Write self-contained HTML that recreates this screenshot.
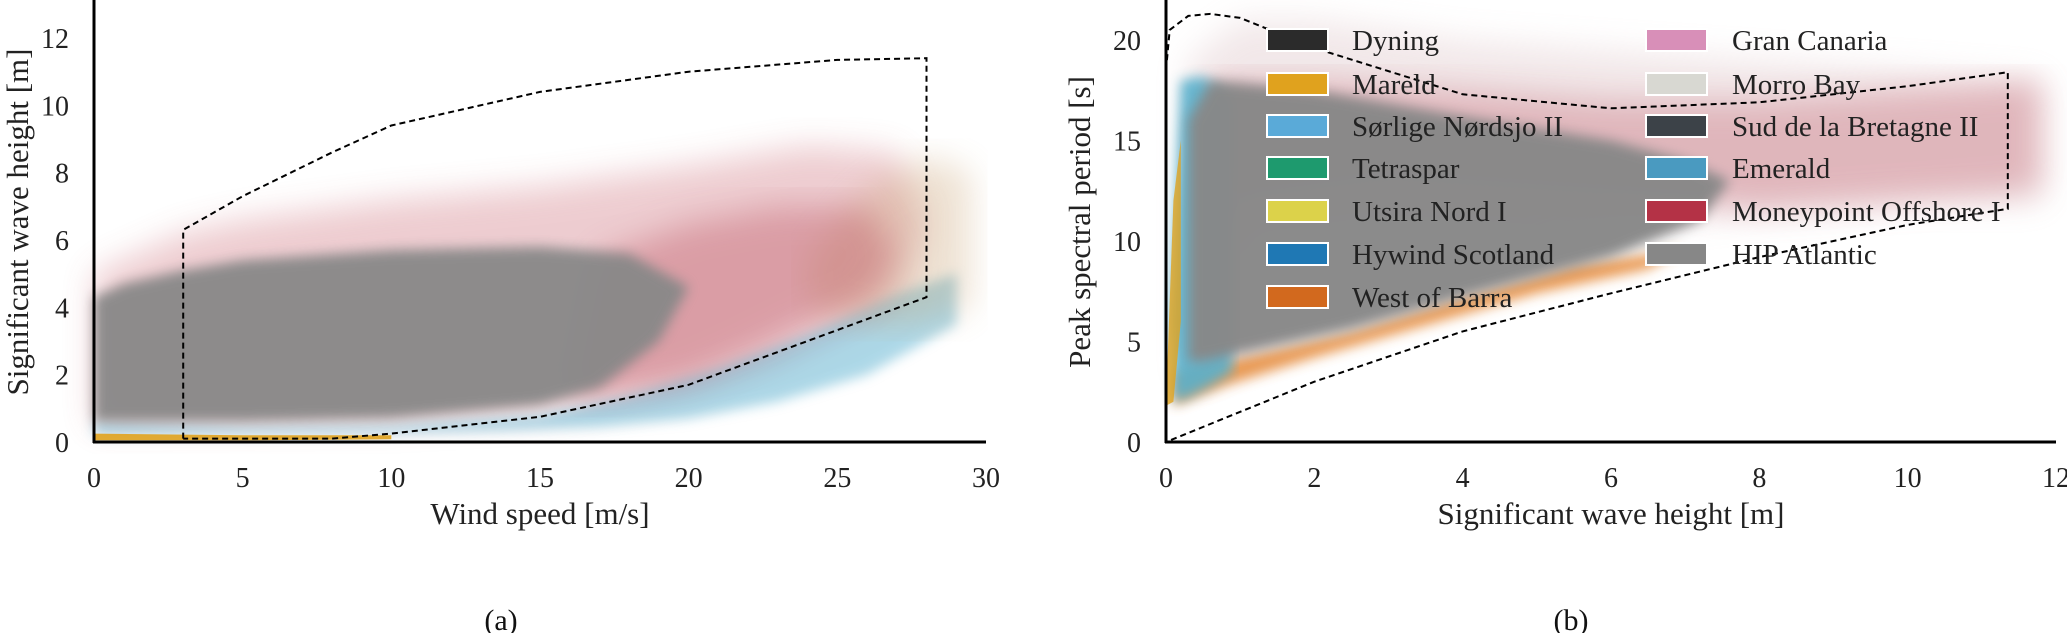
<!DOCTYPE html>
<html><head><meta charset="utf-8">
<style>
html,body{margin:0;padding:0;background:#fff;}
svg{display:block;font-family:"Liberation Serif",serif;}
</style></head>
<body>
<svg id="fig" width="2067" height="633" viewBox="0 0 2067 633">
<defs>
<filter id="soft" x="-10%" y="-10%" width="120%" height="120%"><feGaussianBlur stdDeviation="6"/></filter>
<filter id="soft2" x="-10%" y="-10%" width="120%" height="120%"><feGaussianBlur stdDeviation="16"/></filter>
</defs>
<g id="pa"></g>
<g id="pb"></g>
</svg>
<script>
// ---- Panel (a) data: wind speed vs Hs ----
const aXTicks = [0,5,10,15,20,25,30];
const aYTicks = [0,2,4,6,8,10,12];
const aGrayX = [0,1,3,5,10,15,18,20,19,17,15,10,5,0];
const aGrayY = [4.3,4.7,5.1,5.4,5.7,5.8,5.6,4.6,3.0,1.6,1.1,0.7,0.6,0.6];
const aRedX = [0,3,5,10,15,20,24,27,28,27,25,23,21,19,15,10,0];
const aRedY = [5.0,6.2,6.6,7.2,7.6,8.2,8.8,8.6,6.5,4.0,3.2,2.3,1.7,1.3,0.85,0.6,0.5];
const aRedCoreX = [17,20,23,26,27,26,24,22,20,18,16];
const aRedCoreY = [5.5,6.5,7.0,7.0,5.5,4.2,3.5,2.6,1.8,1.5,1.3];
const aCyanX = [0,5,10,15,18,21,24,27,29,29,26,23,20,17,14,10,5,0];
const aCyanY = [0.6,0.45,0.5,0.8,1.4,2.2,3.2,4.4,5.0,3.5,2.0,1.2,0.7,0.45,0.35,0.25,0.2,0.2];
const aOrangeX = [0,5,10,10,5,0];
const aOrangeY = [0.25,0.2,0.2,0.08,0.05,0.05];
const aMixX = [24,26,28,29.5,29.5,28,26,24];
const aMixY = [5.5,7.5,8.5,8,4,3.5,3.5,4];
const aEnvX = [3,3,5,8,10,15,20,25,28,28,24,20,15,10,8,3];
const aEnvY = [0.1,6.3,7.3,8.6,9.4,10.4,11.0,11.35,11.4,4.3,3.0,1.7,0.75,0.25,0.1,0.1];

// ---- Panel (b) data: Hs vs Tp ----
const bXTicks = [0,2,4,6,8,10,12];
const bYTicks = [0,5,10,15,20];
const bHazeX = [0.3,1,2,4,6,8,10,11.8,11.8,10,8,6,4,2,0.3];
const bHazeY = [19,21,21,20,19.5,19,18.5,18,12,12,11.5,10.5,8,6,3];
const bRedX = [0.6,2,4,6,8,10,11.8,11.8,10,8,7,5,3,1,0.6];
const bRedY = [18,18,17.5,17,17,17.5,18,12.5,12,11.5,12,12.5,13,12,10];
const bGrayX = [0.3,0.6,2,4,6,7,7.6,7.2,6,4,2.5,1,0.5,0.3];
const bGrayY = [16,18,17.5,16.2,15,14,13,11,9.2,7.2,5.6,4.4,4,4];
const bOrangeX = [0.1,1,2.5,4,5.5,7,6.5,5,3.5,2,0.8,0.1];
const bOrangeY = [3.5,4.2,5.5,7.2,8.8,9.6,8.6,7.4,5.8,4.2,2.8,1.8];
const bCyanX = [0.05,0.2,0.5,0.9,0.9,0.6,0.3,0.1];
const bCyanY = [6,18,18.2,17,3.5,2.8,2.2,2];
const bYellowX = [0,0.1,0.2,0.2,0.1,0];
const bYellowY = [2,12,15,6,2,1.8];
const bEnvX = [0,0.05,0.3,0.6,1,2,4,6,8,10,11.35,11.35,10,8,6,4,2,0];
const bEnvY = [18.5,20.5,21.2,21.3,21.1,19.6,17.3,16.6,16.9,17.7,18.4,11.6,10.8,9.2,7.4,5.5,3,0];
const legendLeft = ["Dyning","Mareld","Sørlige Nørdsjo II","Tetraspar","Utsira Nord I","Hywind Scotland","West of Barra"];
const legendLeftColors = ["#2b2b2b","#e0a21e","#5aaad8","#1e9a6e","#dcd24a","#1f78b4","#d2691e"];
const legendRight = ["Gran Canaria","Morro Bay","Sud de la Bretagne II","Emerald","Moneypoint Offshore I","HIP Atlantic"];
const legendRightColors = ["#d88fb8","#d8d8d2","#3c4248","#4a9ac0","#b43246","#878787"];

const NS="http://www.w3.org/2000/svg";
function mk(parent,tag,attrs){const e=document.createElementNS(NS,tag);for(const k in attrs)e.setAttribute(k,attrs[k]);parent.appendChild(e);return e;}

const axA = {x:v=>94+v*(986-94)/30, y:v=>442-v*(442-38)/12};
const axB = {x:v=>1166+v*(2056-1166)/12, y:v=>442-v*(442-40)/20};

function poly(g,ax,xs,ys,fill,op,filt,name){
  const pts=xs.map((x,i)=>ax.x(x).toFixed(1)+","+ax.y(ys[i]).toFixed(1)).join(" ");
  const p=mk(g,"polygon",{points:pts,fill:fill,opacity:op});
  if(filt)p.setAttribute("filter","url(#"+filt+")");
  
  
  return p;
}
function env(g,ax,xs,ys,name,closed){
  const pts=xs.map((x,i)=>ax.x(x).toFixed(1)+","+ax.y(ys[i]).toFixed(1)).join(" ");
  const p=mk(g,closed?"polygon":"polyline",{points:pts,fill:"none",stroke:"#000","stroke-width":2,"stroke-dasharray":"6,4"});
  
  
}
function axes(g,ax,xt,yt,x0,x1,ytop,xlab,ylab,cap,capx,ylabx){
  xt.forEach(v=>{const t=mk(g,"text",{x:ax.x(v),y:487,"text-anchor":"middle","font-size":28,fill:"#222"});t.textContent=v;
    
    });
  yt.forEach(v=>{const t=mk(g,"text",{x:x0-25,y:ax.y(v)+10,"text-anchor":"end","font-size":28,fill:"#222"});t.textContent=v;
    
    });
  const l1=mk(g,"line",{x1:x0,y1:ytop,x2:x0,y2:443,stroke:"#000","stroke-width":3});
  
  
  const l2=mk(g,"line",{x1:x0-1,y1:442,x2:x1,y2:442,stroke:"#000","stroke-width":3});
  
  
  const xl=mk(g,"text",{x:(x0+x1)/2,y:524,"text-anchor":"middle","font-size":31,fill:"#222"});xl.textContent=xlab;
  
  
  const yl=mk(g,"text",{x:0,y:0,"text-anchor":"middle","font-size":31,fill:"#222",transform:`translate(${ylabx},222) rotate(-90)`});yl.textContent=ylab;
  
  
  const c=mk(g,"text",{x:capx,y:630,"text-anchor":"middle","font-size":30,fill:"#111"});c.textContent=cap;
  
  
}

// Panel A
const ga=document.getElementById("pa");
poly(ga,axA,aRedX,aRedY,"#c65a66",0.3,"soft2","red-scatter-haze");
poly(ga,axA,aCyanX,aCyanY,"#6ab8d4",0.55,"soft","cyan-scatter");
poly(ga,axA,aMixX,aMixY,"#c8a070",0.3,"soft2","mixed-scatter");
poly(ga,axA,aRedCoreX,aRedCoreY,"#b84656",0.35,"soft2","red-scatter-core");
poly(ga,axA,aGrayX,aGrayY,"#888888",0.95,"soft","gray-scatter-core");
poly(ga,axA,aOrangeX,aOrangeY,"#e0a21e",0.9,null,"orange-scatter");
env(ga,axA,aEnvX,aEnvY,"envelope-a",false);
axes(ga,axA,aXTicks,aYTicks,94,986,0,"Wind speed [m/s]","Significant wave height [m]","(a)",501,28);

// Panel B
const gb=document.getElementById("pb");
poly(gb,axB,bHazeX,bHazeY,"#d4b4b8",0.3,"soft2","pale-scatter-haze");
poly(gb,axB,bRedX,bRedY,"#c05a68",0.35,"soft2","red-scatter");
poly(gb,axB,bOrangeX,bOrangeY,"#e58a3a",0.85,"soft","orange-scatter");
poly(gb,axB,bCyanX,bCyanY,"#58b0cc",0.9,"soft","cyan-scatter");
poly(gb,axB,bGrayX,bGrayY,"#888888",0.97,"soft","gray-scatter-core");
poly(gb,axB,bYellowX,bYellowY,"#e0a21e",0.8,null,"yellow-scatter");
env(gb,axB,bEnvX,bEnvY,"envelope-b",true);
axes(gb,axB,bXTicks,bYTicks,1166,2056,0,"Significant wave height [m]","Peak spectral period [s]","(b)",1571,1090);

// Legend
const lg=mk(gb,"g",{});


const rowY=[40,84,126,168,211,254,297];
legendLeft.forEach((n,i)=>{
  const r=mk(lg,"rect",{x:1267,y:rowY[i]-11,width:61,height:22,fill:legendLeftColors[i],stroke:"#fff","stroke-width":2});
  
  
  const t=mk(lg,"text",{x:1352,y:rowY[i]+10,"font-size":29,fill:"#222"});t.textContent=n;
  
  
});
legendRight.forEach((n,i)=>{
  const r=mk(lg,"rect",{x:1646,y:rowY[i]-11,width:61,height:22,fill:legendRightColors[i],stroke:"#fff","stroke-width":2});
  
  
  const t=mk(lg,"text",{x:1732,y:rowY[i]+10,"font-size":29,fill:"#222"});t.textContent=n;
  
  
});
</script>
</body></html>
